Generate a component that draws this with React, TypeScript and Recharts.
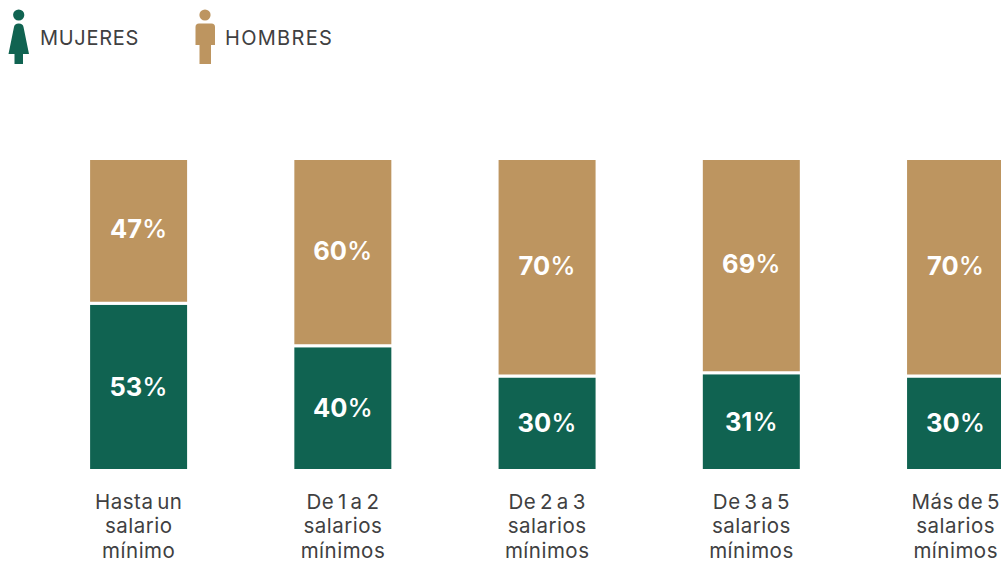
import React from 'react';
import { BarChart, Bar, XAxis, YAxis, Legend, LabelList } from 'recharts';

const categories = ['Hasta un|salario|mínimo', 'De 1 a 2|salarios|mínimos', 'De 2 a 3|salarios|mínimos', 'De 3 a 5|salarios|mínimos', 'Más de 5|salarios|mínimos'];
const mujeres = [53.6, 40, 30.3, 31.3, 30.3];
const hombres = [46.4, 60, 69.7, 68.7, 69.7];
const mujeresLabels = ['53%', '40%', '30%', '31%', '30%'];
const hombresLabels = ['47%', '60%', '70%', '69%', '70%'];

const GREEN = '#106351';
const TAN = '#bd9560';
const TEXT = '#404041';
const FONT = 'Inter, sans-serif';

const data = categories.map((name, i) => ({
  name,
  mujeres: mujeres[i],
  hombres: hombres[i],
  mujeresLabel: mujeresLabels[i],
  hombresLabel: hombresLabels[i],
}));

const CategoryTick = ({ x, y, payload }: any) => (
  <text x={x} textAnchor="middle" fontFamily={FONT} fontSize={20.5} fill={TEXT} letterSpacing={0.5} wordSpacing={-2.5}>
    {payload.value.split('|').map((line: string, i: number) => (
      <tspan key={line} x={x} y={y + 30 + i * 24.5}>{line}</tspan>
    ))}
  </text>
);

const IconLegend = () => (
  <svg width={340} height={70} style={{ display: 'block' }}>
    <circle cx={18.7} cy={15} r={5.6} fill={GREEN} />
    <path d="M14 27 Q14.5 23.5 18.7 23.5 Q23 23.5 23.5 27 L29 54 L23 54 L23 64 L14.5 64 L14.5 54 L8.5 54 Z" fill={GREEN} />
    <text x={40} y={45} fontFamily={FONT} fontSize={20} fill={TEXT} letterSpacing={0.7}>MUJERES</text>
    <circle cx={205} cy={15} r={5.6} fill={TAN} />
    <path d="M195.5 27 Q195.5 23.5 199 23.5 L211.5 23.5 Q215 23.5 215 27 L215 45 L211 45 L211 64 L199.5 64 L199.5 45 L195.5 45 Z" fill={TAN} />
    <text x={225} y={45} fontFamily={FONT} fontSize={20} fill={TEXT} letterSpacing={1.3}>HOMBRES</text>
  </svg>
);

const renderValueLabel = (key: 'mujeresLabel' | 'hombresLabel', dy: number) => (props: any) => {
  const { x, y, width, height, index } = props;
  const label = data[index][key];
  return (
    <text x={x + width / 2} y={y + height / 2 + dy} textAnchor="middle" fontFamily={FONT} fontSize={25.5} fontWeight={700} fill="#ffffff">
      {label.slice(0, -1)}
      <tspan fontWeight={500}>%</tspan>
    </text>
  );
};

export default function App() {
  return (
    <div style={{ position: 'absolute', left: 0, top: 0, width: 1001, height: 562, overflow: 'hidden', background: '#fff' }}>
      <BarChart
        width={1100}
        height={562}
        data={data}
        margin={{ top: 88.5, right: 42.2, bottom: 0, left: 36.6 }}
        barCategoryGap={0}
      >
        <XAxis dataKey="name" axisLine={false} tickLine={false} interval={0} tick={<CategoryTick />} height={91.5} />
        <YAxis hide domain={[0, 100]} />
        <Legend content={<IconLegend />} verticalAlign="top" align="left" wrapperStyle={{ top: 0, left: 0, width: 340 }} />
        <Bar dataKey="mujeres" stackId="a" fill={GREEN} stroke="#ffffff" strokeWidth={3} barSize={100} isAnimationActive={false}>
          <LabelList content={renderValueLabel('mujeresLabel', 9)} />
        </Bar>
        <Bar dataKey="hombres" stackId="a" fill={TAN} stroke="#ffffff" strokeWidth={3} barSize={100} isAnimationActive={false}>
          <LabelList content={renderValueLabel('hombresLabel', 7.5)} />
        </Bar>
      </BarChart>
    </div>
  );
}
